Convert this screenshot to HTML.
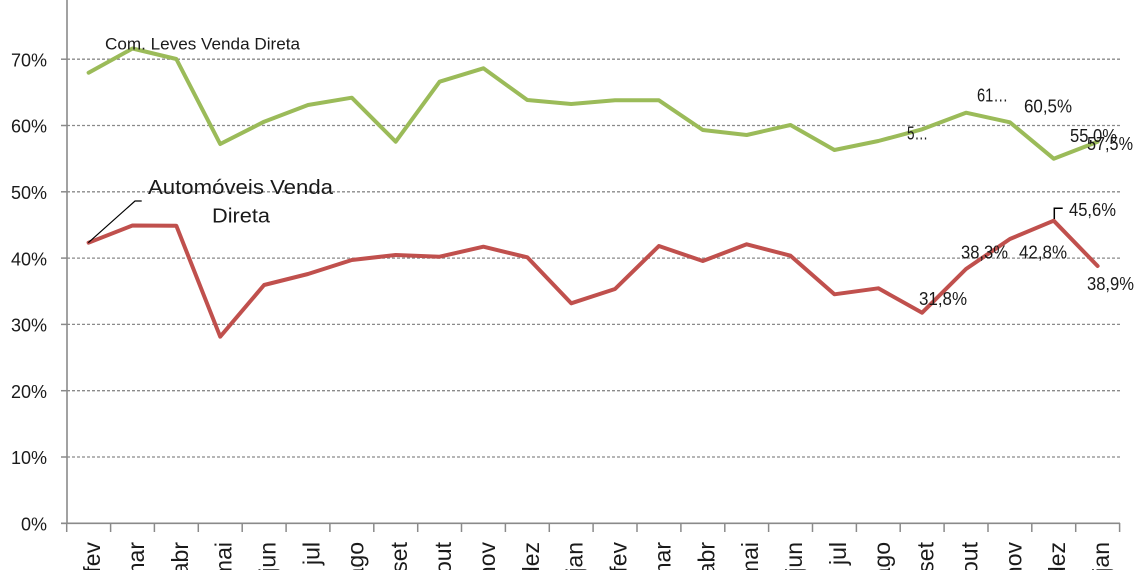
<!DOCTYPE html>
<html>
<head>
<meta charset="utf-8">
<style>
  html, body { margin: 0; padding: 0; background: #ffffff; }
  svg { display: block; }
  text { font-family: "Liberation Sans", sans-serif; fill: #1a1a1a; }
</style>
</head>
<body>
<svg width="1140" height="570" viewBox="0 0 1140 570" xmlns="http://www.w3.org/2000/svg">
  <rect x="0" y="0" width="1140" height="570" fill="#ffffff"/>

  <!-- gridlines -->
  <g stroke="#8a8a8a" stroke-width="1.3" stroke-dasharray="3,2" fill="none">
    <line x1="67" y1="457" x2="1120" y2="457"/>
    <line x1="67" y1="390.7" x2="1120" y2="390.7"/>
    <line x1="67" y1="324.4" x2="1120" y2="324.4"/>
    <line x1="67" y1="258.1" x2="1120" y2="258.1"/>
    <line x1="67" y1="191.8" x2="1120" y2="191.8"/>
    <line x1="67" y1="125.5" x2="1120" y2="125.5"/>
    <line x1="67" y1="59.2" x2="1120" y2="59.2"/>
  </g>

  <!-- y tick marks -->
  <g stroke="#8a8a8a" stroke-width="1.5">
    <line x1="61" y1="523.3" x2="67" y2="523.3"/>
    <line x1="61" y1="457" x2="67" y2="457"/>
    <line x1="61" y1="390.7" x2="67" y2="390.7"/>
    <line x1="61" y1="324.4" x2="67" y2="324.4"/>
    <line x1="61" y1="258.1" x2="67" y2="258.1"/>
    <line x1="61" y1="191.8" x2="67" y2="191.8"/>
    <line x1="61" y1="125.5" x2="67" y2="125.5"/>
    <line x1="61" y1="59.2" x2="67" y2="59.2"/>
  </g>

  <!-- axes -->
  <g stroke="#8a8a8a" stroke-width="1.6">
    <line x1="67" y1="0" x2="67" y2="524"/>
    <line x1="61" y1="523.3" x2="1120" y2="523.3"/>
  </g>
  <!-- x tick marks -->
  <g stroke="#8a8a8a" stroke-width="1.5">
    <line x1="66.7" y1="523" x2="66.7" y2="532"/>
    <line x1="110.6" y1="523" x2="110.6" y2="532"/>
    <line x1="154.4" y1="523" x2="154.4" y2="532"/>
    <line x1="198.3" y1="523" x2="198.3" y2="532"/>
    <line x1="242.2" y1="523" x2="242.2" y2="532"/>
    <line x1="286.1" y1="523" x2="286.1" y2="532"/>
    <line x1="329.9" y1="523" x2="329.9" y2="532"/>
    <line x1="373.8" y1="523" x2="373.8" y2="532"/>
    <line x1="417.7" y1="523" x2="417.7" y2="532"/>
    <line x1="461.5" y1="523" x2="461.5" y2="532"/>
    <line x1="505.4" y1="523" x2="505.4" y2="532"/>
    <line x1="549.3" y1="523" x2="549.3" y2="532"/>
    <line x1="593.1" y1="523" x2="593.1" y2="532"/>
    <line x1="637.0" y1="523" x2="637.0" y2="532"/>
    <line x1="680.9" y1="523" x2="680.9" y2="532"/>
    <line x1="724.8" y1="523" x2="724.8" y2="532"/>
    <line x1="768.6" y1="523" x2="768.6" y2="532"/>
    <line x1="812.5" y1="523" x2="812.5" y2="532"/>
    <line x1="856.4" y1="523" x2="856.4" y2="532"/>
    <line x1="900.2" y1="523" x2="900.2" y2="532"/>
    <line x1="944.1" y1="523" x2="944.1" y2="532"/>
    <line x1="988.0" y1="523" x2="988.0" y2="532"/>
    <line x1="1031.8" y1="523" x2="1031.8" y2="532"/>
    <line x1="1075.7" y1="523" x2="1075.7" y2="532"/>
    <line x1="1119.6" y1="523" x2="1119.6" y2="532"/>
  </g>

  <!-- y labels -->
  <g font-size="18" text-anchor="end">
    <text x="47" y="530.5">0%</text>
    <text x="47" y="464.2">10%</text>
    <text x="47" y="397.9">20%</text>
    <text x="47" y="331.6">30%</text>
    <text x="47" y="265.3">40%</text>
    <text x="47" y="199">50%</text>
    <text x="47" y="132.7">60%</text>
    <text x="47" y="66.4">70%</text>
  </g>

  <!-- x labels (rotated) -->
  <g font-size="23" text-anchor="end">
    <text transform="translate(100.1,542) rotate(-90)">fev</text>
    <text transform="translate(144.0,542) rotate(-90)">mar</text>
    <text transform="translate(187.8,542) rotate(-90)">abr</text>
    <text transform="translate(231.7,542) rotate(-90)">mai</text>
    <text transform="translate(275.6,542) rotate(-90)">jun</text>
    <text transform="translate(319.5,542) rotate(-90)">jul</text>
    <text transform="translate(363.3,542) rotate(-90)">ago</text>
    <text transform="translate(407.2,542) rotate(-90)">set</text>
    <text transform="translate(451.1,542) rotate(-90)">out</text>
    <text transform="translate(494.9,542) rotate(-90)">nov</text>
    <text transform="translate(538.8,542) rotate(-90)">dez</text>
    <text transform="translate(582.7,542) rotate(-90)">jan</text>
    <text transform="translate(626.5,542) rotate(-90)">fev</text>
    <text transform="translate(670.4,542) rotate(-90)">mar</text>
    <text transform="translate(714.3,542) rotate(-90)">abr</text>
    <text transform="translate(758.2,542) rotate(-90)">mai</text>
    <text transform="translate(802.0,542) rotate(-90)">jun</text>
    <text transform="translate(845.9,542) rotate(-90)">jul</text>
    <text transform="translate(889.8,542) rotate(-90)">ago</text>
    <text transform="translate(933.6,542) rotate(-90)">set</text>
    <text transform="translate(977.5,542) rotate(-90)">out</text>
    <text transform="translate(1021.4,542) rotate(-90)">nov</text>
    <text transform="translate(1065.2,542) rotate(-90)">dez</text>
    <text transform="translate(1109.1,542) rotate(-90)">jan</text>
  </g>

  <!-- series: Com. Leves Venda Direta -->
  <polyline fill="none" stroke="#9bbb59" stroke-width="4" stroke-linejoin="round" stroke-linecap="round"
    points="88.6,72.7 132.5,48.5 176.3,59 220.2,144 264.1,121.7 308,105 351.8,97.7 395.7,141.7 439.6,81.7 483.4,68.3 527.3,100 571.2,104 615,100.3 658.9,100.3 702.8,130 746.7,135 790.5,125 834.4,150 878.3,141 922.1,129.3 966,112.7 1009.9,122.3 1053.7,158.7 1097.6,141.7"/>

  <!-- series: Automóveis Venda Direta -->
  <polyline fill="none" stroke="#c0504d" stroke-width="4" stroke-linejoin="round" stroke-linecap="round"
    points="88.6,242.7 132.5,225.5 176.3,225.7 220.2,336.7 264.1,285 308,274 351.8,260 395.7,255 439.6,256.7 483.4,246.7 527.3,257.3 571.2,303.3 615,289 658.9,246 702.8,261 746.7,244.3 790.5,255.7 834.4,294.3 878.3,288.3 922.1,312.7 966,269 1009.9,239 1053.7,220.7 1097.6,266"/>

  <!-- leader lines -->
  <polyline fill="none" stroke="#000" stroke-width="1.2" points="88.3,242.7 135,201 141.7,201"/>
  <polyline fill="none" stroke="#000" stroke-width="1.5" points="1054.3,219 1054.3,208.3 1062.7,208.3"/>

  <!-- series names -->
  <text x="105" y="49.3" font-size="17" textLength="195" lengthAdjust="spacingAndGlyphs">Com. Leves Venda Direta</text>
  <text x="148" y="194" font-size="20" textLength="185" lengthAdjust="spacingAndGlyphs">Automóveis Venda</text>
  <text x="212" y="222.7" font-size="20" textLength="58" lengthAdjust="spacingAndGlyphs">Direta</text>

  <!-- data labels -->
  <g font-size="18">
    <text x="907" y="139.3" textLength="21" lengthAdjust="spacingAndGlyphs">5…</text>
    <text x="977" y="101.5" textLength="31" lengthAdjust="spacingAndGlyphs">61…</text>
    <text x="1024" y="112.7" textLength="48" lengthAdjust="spacingAndGlyphs">60,5%</text>
    <text x="1070" y="142" textLength="47" lengthAdjust="spacingAndGlyphs">55,0%</text>
    <text x="1087" y="150" textLength="46" lengthAdjust="spacingAndGlyphs">57,5%</text>
    <text x="1069" y="216" textLength="47" lengthAdjust="spacingAndGlyphs">45,6%</text>
    <text x="961" y="258.3" textLength="47" lengthAdjust="spacingAndGlyphs">38,3%</text>
    <text x="1019" y="258.3" textLength="48" lengthAdjust="spacingAndGlyphs">42,8%</text>
    <text x="919" y="305" textLength="48" lengthAdjust="spacingAndGlyphs">31,8%</text>
    <text x="1087" y="290" textLength="47" lengthAdjust="spacingAndGlyphs">38,9%</text>
  </g>
</svg>
</body>
</html>
